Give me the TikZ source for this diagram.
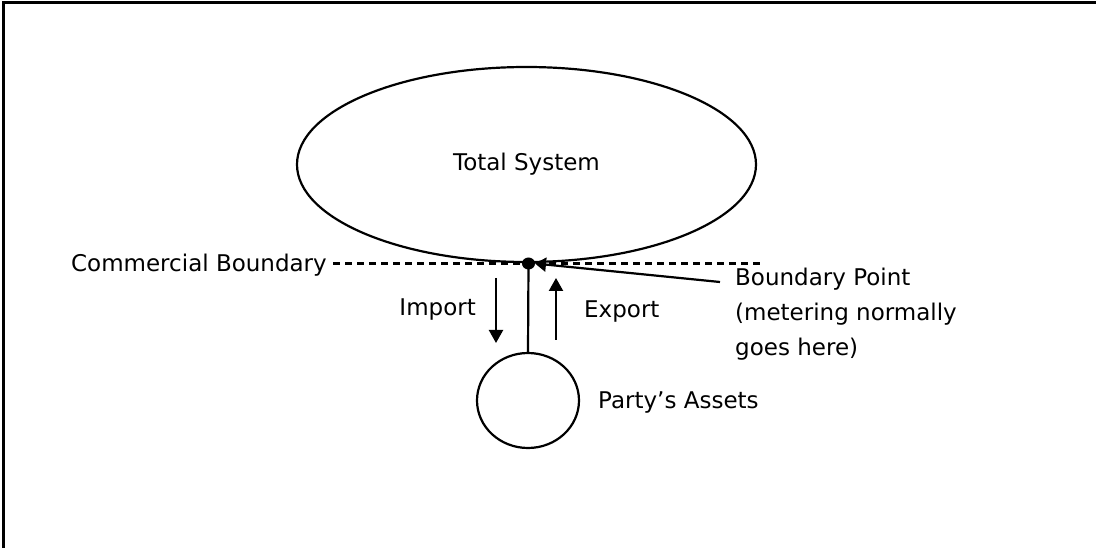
\documentclass[tikz,border=0pt]{standalone}
\usepackage{fontspec}
\setmainfont{DejaVu Sans}
\usetikzlibrary{arrows.meta}
\usetikzlibrary{shapes.geometric}
\tikzstyle{frame}=[line width=3.5pt]
\tikzstyle{region}=[draw, ellipse, line width=2.2pt, inner sep=0pt]
\tikzstyle{label}=[font=\fontsize{23}{35}\selectfont, inner sep=0pt]
\tikzstyle{flow}=[line width=2.2pt, -{Triangle[length=13pt,width=14pt]}]
\tikzstyle{wire}=[line width=2.2pt]

\begin{document}
\begin{tikzpicture}[x=1pt, y=-1pt]
      \useasboundingbox (0, 0) rectangle (1096, 548);
      \draw[frame] (3.5, 700) -- (3.5, 2.5) -- (1300, 2.5);
      \node[region, minimum width=459pt, minimum height=195pt] (total) at (526.5, 164.5) {};
      \node[label] (totaltext) at (526.5, 164.5) {Total System};
      \node[region, minimum width=102pt, minimum height=95pt] (assets) at (528, 400.5) {};
      \coordinate (bp) at (528.5, 263.5);
      \coordinate (dashl) at (333, 263.5);
      \coordinate (dashr) at (760, 263.5);
      \draw[wire, dash pattern=on 7pt off 5pt] (dashl) -- (dashr);
      \fill (bp) ellipse (6.5pt and 6pt);
      \draw[wire] (bp) -- (assets.north);
      \node[label, anchor=east] (commercial) at (327, 265) {Commercial Boundary};
      \node[label, anchor=north west, align=left] (point) at (735, 268) {Boundary Point\\(metering normally\\goes here)};
      \coordinate (pointer) at (720, 282);
      \draw[wire, -{Triangle[length=11pt,width=14pt]}] (pointer) -- ([xshift=6.5pt] bp);
      \coordinate (importtop) at (496, 278);
      \coordinate (importtip) at (496, 343);
      \coordinate (exportfoot) at (556, 340);
      \coordinate (exporttip) at (556, 278);
      \draw[flow] (importtop) -- (importtip);
      \draw[flow] (exportfoot) -- (exporttip);
      \node[label, anchor=east] (import) at (476, 310) {Import};
      \node[label, anchor=west] (export) at (584, 312) {Export};
      \node[label, anchor=west] (assetstext) at (598, 403) {Party’s Assets};
    \end{tikzpicture}
\end{document}
